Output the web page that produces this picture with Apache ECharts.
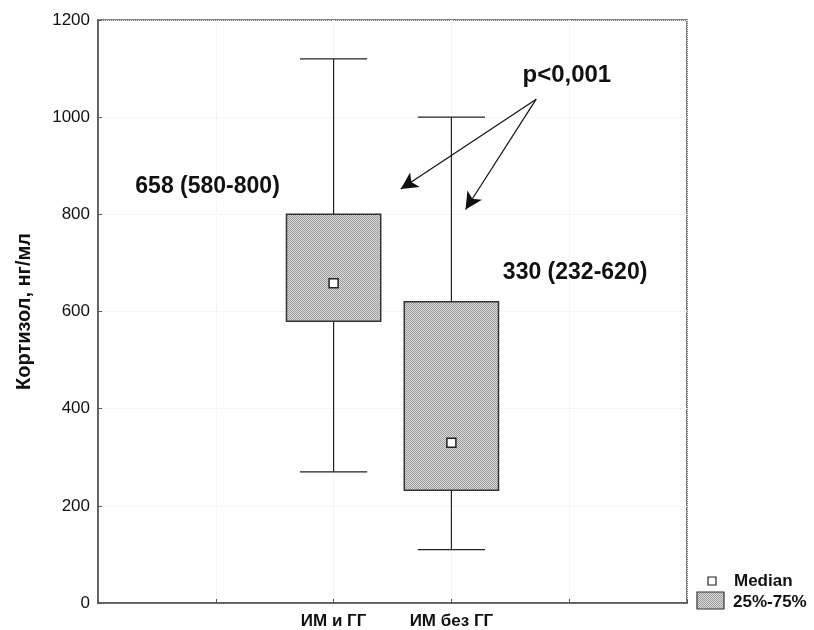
<!DOCTYPE html>
<html>
<head>
<meta charset="utf-8">
<script src="https://cdn.jsdelivr.net/npm/echarts@6/dist/echarts.min.js"></script>
<style>
  html, body { margin: 0; padding: 0; background: #fff; }
  #chart { width: 814px; height: 630px; }
</style>
</head>
<body>
<div id="chart"></div>
<script>
// group names and where they sit on the x scale (0..5)
const categories = ['ИМ и ГГ', 'ИМ без ГГ'];
const catPos = [2, 3];
// box plot values, ng/ml
const whiskerLow = [270, 110];
const q1 = [580, 232];
const median = [658, 330];
const q3 = [800, 620];
const whiskerHigh = [1120, 1000];
const yTicks = [0, 200, 400, 600, 800, 1000, 1200];

// annotations (data coordinates)
const boxNotes = ['658 (580-800)', '330 (232-620)'];
const boxNotePos = [[0.93, 857], [4.05, 680]];
const pText = 'p<0,001';
const pTextPos = [3.98, 1085];
const arrowFrom = [3.72, 1037];
const arrowTo = [[2.57, 852], [3.12, 810]];

const FONT = 'Liberation Sans, Arial, sans-serif';

// gray dither used for the 25-75% boxes
const makePattern = () => {
  const c = document.createElement('canvas');
  c.width = 2; c.height = 2;
  const ctx = c.getContext('2d');
  ctx.fillStyle = '#dadada';
  ctx.fillRect(0, 0, 2, 2);
  ctx.fillStyle = '#9c9c9c';
  ctx.fillRect(0, 0, 1, 1);
  ctx.fillRect(1, 1, 1, 1);
  return { image: c, repeat: 'repeat' };
};
const pattern = makePattern();

const boxData = categories.map((name, i) => [catPos[i], whiskerLow[i], q1[i], median[i], q3[i], whiskerHigh[i]]);

const chart = echarts.init(document.getElementById('chart'));

const option = {
  backgroundColor: '#fff',
  animation: false,
  grid: {
    left: 98, right: 127, top: 20, bottom: 26,
    show: true, borderColor: '#555', borderWidth: 1.5,
  },
  xAxis: {
    type: 'value',
    min: 0, max: 5, interval: 1,
    axisLine: { show: true, lineStyle: { color: '#555', width: 1.5 } },
    axisTick: { show: true, inside: true, length: 4, lineStyle: { color: '#555' } },
    splitLine: { show: true, lineStyle: { color: '#ececec', type: 'dotted' } },
    axisLabel: {
      fontFamily: FONT, fontSize: 17, fontWeight: 'bold', color: '#111', margin: 10,
      formatter: (v) => {
        const i = catPos.indexOf(v);
        return i >= 0 ? categories[i] : '';
      },
    },
  },
  yAxis: {
    type: 'value',
    min: 0, max: 1200, interval: 200,
    name: 'Кортизол, нг/мл',
    nameLocation: 'middle',
    nameGap: 64,
    nameRotate: 90,
    nameTextStyle: { fontFamily: FONT, fontSize: 20, fontWeight: 'bold', color: '#111' },
    axisLine: { show: true, lineStyle: { color: '#555', width: 1.5 } },
    axisTick: { show: true, inside: true, length: 4, lineStyle: { color: '#555' } },
    splitLine: { show: true, lineStyle: { color: '#ececec', type: 'dotted' } },
    axisLabel: {
      fontFamily: FONT, fontSize: 17, color: '#111', margin: 8,
      formatter: (v) => (yTicks.indexOf(v) >= 0 ? String(v) : ''),
    },
  },
  series: [
    {
      type: 'custom',
      name: 'box',
      data: boxData,
      renderItem: (params, api) => {
        const x = api.value(0);
        const band = api.size([1, 0])[0];
        const boxW = band * 0.8;
        const capW = band * 0.57;
        const pLow = api.coord([x, api.value(1)]);
        const pQ1 = api.coord([x, api.value(2)]);
        const pMed = api.coord([x, api.value(3)]);
        const pQ3 = api.coord([x, api.value(4)]);
        const pHigh = api.coord([x, api.value(5)]);
        const line = { stroke: '#222', lineWidth: 1.2 };
        return {
          type: 'group',
          children: [
            { type: 'line', shape: { x1: pLow[0], y1: pLow[1], x2: pHigh[0], y2: pHigh[1] }, style: line },
            { type: 'line', shape: { x1: pLow[0] - capW / 2, y1: pLow[1], x2: pLow[0] + capW / 2, y2: pLow[1] }, style: line },
            { type: 'line', shape: { x1: pHigh[0] - capW / 2, y1: pHigh[1], x2: pHigh[0] + capW / 2, y2: pHigh[1] }, style: line },
            {
              type: 'rect',
              shape: { x: pQ3[0] - boxW / 2, y: pQ3[1], width: boxW, height: pQ1[1] - pQ3[1] },
              style: { fill: pattern, stroke: '#333', lineWidth: 1.5 },
            },
            {
              type: 'rect',
              shape: { x: pMed[0] - 4.5, y: pMed[1] - 4.5, width: 9, height: 9 },
              style: { fill: '#fff', stroke: '#222', lineWidth: 1.5 },
            },
          ],
        };
      },
      markLine: {
        silent: true,
        symbol: ['none', 'arrow'],
        symbolSize: [13, 17],
        label: { show: false },
        lineStyle: { color: '#111', width: 1.2, type: 'solid' },
        data: arrowTo.map((p) => [{ coord: arrowFrom }, { coord: p }]),
      },
    },
  ],
};

chart.setOption(option);

// text annotations and legend
const toPx = (p) => chart.convertToPixel({ xAxisIndex: 0, yAxisIndex: 0 }, p);
const graphics = [];
boxNotes.forEach((t, i) => {
  const p = toPx(boxNotePos[i]);
  graphics.push({
    type: 'text', x: p[0], y: p[1],
    style: { text: t, font: 'bold 23px ' + FONT, fill: '#111', align: 'center', verticalAlign: 'middle' },
  });
});
const pp = toPx(pTextPos);
graphics.push({
  type: 'text', x: pp[0], y: pp[1],
  style: { text: pText, font: 'bold 24px ' + FONT, fill: '#111', align: 'center', verticalAlign: 'middle' },
});
// legend
graphics.push(
  { type: 'rect', shape: { x: 708, y: 577, width: 8, height: 8 }, style: { fill: '#fff', stroke: '#222', lineWidth: 1.2 } },
  { type: 'text', x: 734, y: 581, style: { text: 'Median', font: 'bold 17px ' + FONT, fill: '#111', verticalAlign: 'middle' } },
  { type: 'rect', shape: { x: 697, y: 592, width: 27, height: 17 }, style: { fill: pattern, stroke: '#333', lineWidth: 1.2 } },
  { type: 'text', x: 733, y: 602, style: { text: '25%-75%', font: 'bold 17px ' + FONT, fill: '#111', verticalAlign: 'middle' } }
);
chart.setOption({ graphic: graphics });
</script>
</body>
</html>
